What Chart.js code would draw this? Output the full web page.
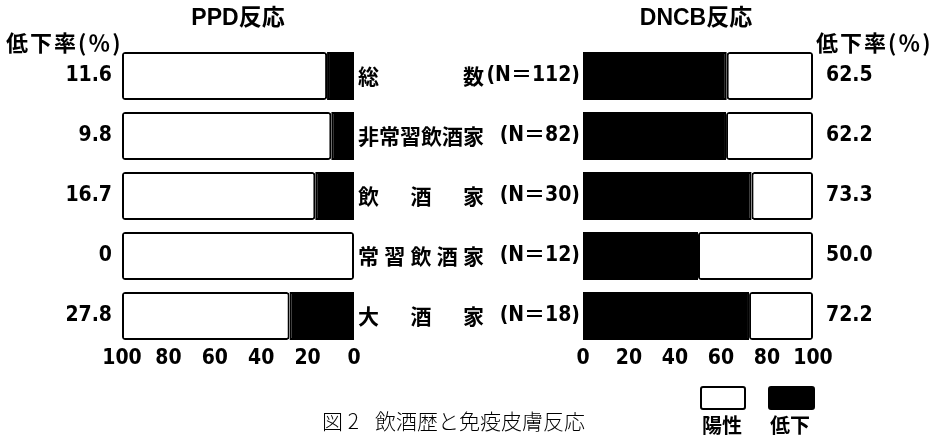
<!DOCTYPE html>
<html>
<head>
<meta charset="utf-8">
<script src="https://cdn.jsdelivr.net/npm/chart.js@4/dist/chart.umd.min.js"></script>
<style>
  html, body { margin:0; padding:0; background:#fff; }
  body { width:936px; height:438px; position:relative; overflow:hidden; font-family:"Noto Sans CJK JP", sans-serif; color:#000; }
  canvas { position:absolute; left:0; top:0; }
  .t { position:absolute; white-space:nowrap; line-height:1; }
  .title { font-family:"Liberation Sans","Noto Sans CJK JP",sans-serif; font-weight:bold; font-size:23px; width:200px; text-align:center; }
  .rate { font-family:"Noto Sans CJK JP",sans-serif; font-weight:bold; font-size:22px; letter-spacing:2px; }
  .cap { font-family:"Noto Sans CJK JP",sans-serif; font-weight:300; font-size:21px; }
  .box { position:absolute; box-sizing:border-box; border:2px solid #000; border-radius:3px; }
  .lg { font-family:"Noto Sans CJK JP",sans-serif; font-weight:bold; font-size:20px; text-align:center; width:60px; }
</style>
</head>
<body>
<canvas id="ppd" width="936" height="438"></canvas>
<canvas id="dncb" width="936" height="438"></canvas>

<div class="t title" style="left:138px; top:6px;">PPD反応</div>
<div class="t title" style="left:596px; top:6px;">DNCB反応</div>
<div class="t rate" style="left:6px; top:30px;">低下率(％)</div>
<div class="t rate" style="left:816px; top:30px;">低下率(％)</div>

<div class="t cap" style="left:322px; top:410px;">図 2</div>
<div class="t cap" style="left:375px; top:410px;">飲酒歴と免疫皮膚反応</div>

<div class="box" style="left:700px; top:386px; width:46px; height:24px; background:#fff;"></div>
<div class="box" style="left:768px; top:386px; width:47px; height:24px; background:#000;"></div>
<div class="t lg" style="left:692px; top:415px;">陽性</div>
<div class="t lg" style="left:760px; top:415px;">低下</div>

<script>
// ---- data ----
const groupNames = ['総　　　　数', '非常習飲酒家', '飲　\u2002酒　\u2002家', '常\u2005習\u2005飲\u2005酒\u2005家', '大　\u2002酒　\u2002家'];
const groupN = ['(N＝112)', '(N＝82)', '(N＝30)', '(N＝12)', '(N＝18)'];
const ppdDecline  = [11.6, 9.8, 16.7, 0, 27.8];
const ppdPositive = [88.4, 90.2, 83.3, 100, 72.2];
const dncbDecline  = [62.5, 62.2, 73.3, 50.0, 72.2];
const dncbPositive = [37.5, 37.8, 26.7, 50.0, 27.8];
const ppdRateLabels  = ['11.6', '9.8', '16.7', '0', '27.8'];
const dncbRateLabels = ['62.5', '62.2', '73.3', '50.0', '72.2'];
const seriesNames = ['低下', '陽性'];
const xTickValues = [0, 20, 40, 60, 80, 100];

Chart.defaults.color = '#000';
const numFont = { family: '"DejaVu Sans Condensed","Liberation Sans Narrow","Noto Sans CJK JP",sans-serif', size: 21, weight: 'bold' };
const nFont = { family: '"DejaVu Sans Condensed","Noto Sans CJK JP",sans-serif', size: 21, weight: 'bold' };
const nameFont = { family: '"Noto Sans CJK JP",sans-serif', size: 21, weight: 'bold' };

function ds(label, data, fill) {
  return {
    label, data,
    backgroundColor: fill,
    borderColor: '#000',
    borderWidth: 2,
    borderSkipped: false,
    borderRadius: 3,
    barPercentage: 0.8,
    categoryPercentage: 1.0
  };
}

function xScale(reverse) {
  return {
    type: 'linear', stacked: true, min: 0, max: 100, reverse,
    grid: { display: false, drawTicks: false },
    border: { display: false },
    afterBuildTicks: s => { s.ticks = xTickValues.map(v => ({ value: v })); },
    ticks: { font: numFont, padding: 0, autoSkip: false, maxRotation: 0 },
    afterFit: s => { s.height = 92; }
  };
}
function catScale(pos, width, font, padding, labels) {
  const o = {
    type: 'category', position: pos, offset: true,
    grid: { display: false, drawTicks: false },
    border: { display: false },
    ticks: { font, padding, crossAlign: 'near', autoSkip: false },
    afterFit: s => { s.width = width; }
  };
  if (labels) o.labels = labels;
  return o;
}

new Chart(document.getElementById('ppd'), {
  type: 'bar',
  data: {
    labels: ppdRateLabels,
    datasets: [ds(seriesNames[0], ppdDecline, '#000'), ds(seriesNames[1], ppdPositive, '#fff')]
  },
  options: {
    indexAxis: 'y', responsive: false, animation: false, devicePixelRatio: 1,
    layout: { padding: { top: 46, bottom: 0, left: 0, right: 0 } },
    plugins: { legend: { display: false }, tooltip: { enabled: false } },
    scales: {
      x: xScale(true),
      y: Object.assign(catScale('left', 122, numFont, 10), { stacked: true }),
      y2: catScale('right', 582, nameFont, 4, groupNames)
    }
  }
});

new Chart(document.getElementById('dncb'), {
  type: 'bar',
  data: {
    labels: groupN,
    datasets: [ds(seriesNames[0], dncbDecline, '#000'), ds(seriesNames[1], dncbPositive, '#fff')]
  },
  options: {
    indexAxis: 'y', responsive: false, animation: false, devicePixelRatio: 1,
    layout: { padding: { top: 46, bottom: 0, left: 0, right: 0 } },
    plugins: { legend: { display: false }, tooltip: { enabled: false } },
    scales: {
      x: xScale(false),
      y: Object.assign(catScale('left', 583, nFont, 3), { stacked: true }),
      y2: catScale('right', 123, numFont, 13, dncbRateLabels)
    }
  }
});
</script>
</body>
</html>
